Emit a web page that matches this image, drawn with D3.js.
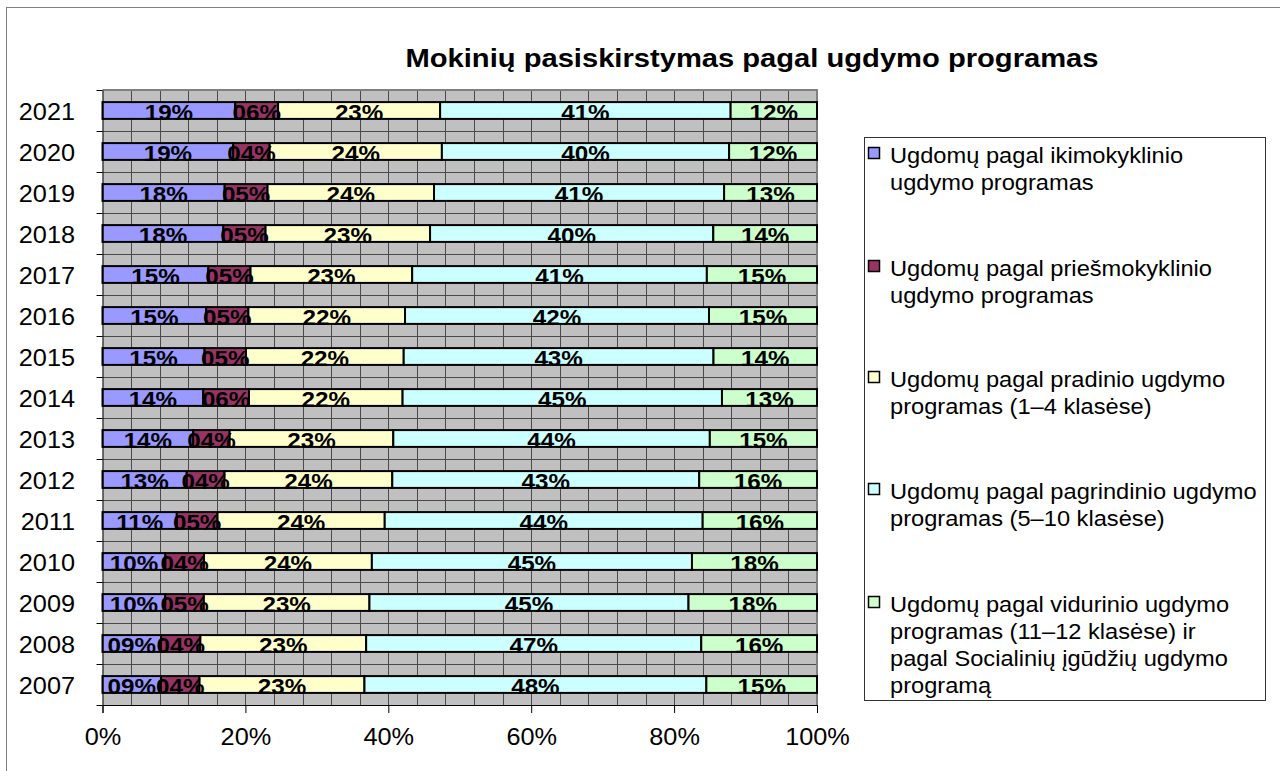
<!DOCTYPE html>
<html>
<head>
<meta charset="utf-8">
<script src="https://cdn.jsdelivr.net/npm/d3@7"></script>
<style>
  html, body { margin: 0; padding: 0; background: #fff; }
  svg { display: block; font-family: Arial, "Liberation Sans", sans-serif; }
</style>
</head>
<body>
<script>
// years, bottom to top
const years = ["2007", "2008", "2009", "2010", "2011", "2012", "2013", "2014",
               "2015", "2016", "2017", "2018", "2019", "2020", "2021"];

// segment sizes (% of bar)
const ikimokyklinio  = [8.2, 8.2, 8.8, 8.8, 10.4, 11.8, 12.7, 14.1, 14.3, 14.5, 14.8, 16.9, 17.1, 18.3, 18.6];
const priesmokyklinio = [5.4, 5.5, 5.4, 5.4, 5.7, 5.3, 5.1, 6.4, 5.8, 5.9, 5.9, 5.9, 6.0, 5.1, 6.0];
const pradinio       = [23.1, 23.2, 23.2, 23.5, 23.4, 23.5, 22.9, 21.5, 22.1, 21.9, 22.6, 23.0, 23.3, 24.1, 22.7];
const pagrindinio    = [47.9, 46.9, 44.7, 44.8, 44.5, 43.0, 44.3, 44.7, 43.4, 42.5, 41.2, 39.6, 40.6, 40.2, 40.7];
const vidurinio      = [15.5, 16.2, 18.0, 17.5, 16.0, 16.5, 15.0, 13.3, 14.5, 15.1, 15.4, 14.5, 13.0, 12.3, 12.1];

// the data labels printed on the bars (they don't always match widths)
const lblIki  = [9, 9, 10, 10, 11, 13, 14, 14, 15, 15, 15, 18, 18, 19, 19];
const lblPries = [4, 4, 5, 4, 5, 4, 4, 6, 5, 5, 5, 5, 5, 4, 6];
const lblPrad = [23, 23, 23, 24, 24, 24, 23, 22, 22, 22, 23, 23, 24, 24, 23];
const lblPagr = [48, 47, 45, 45, 44, 43, 44, 45, 43, 42, 41, 40, 41, 40, 41];
const lblVid  = [15, 16, 18, 18, 16, 16, 15, 13, 14, 15, 15, 14, 13, 12, 12];

const seriesNames = [
    ["Ugdomų pagal ikimokyklinio", "ugdymo programas"],
    ["Ugdomų pagal priešmokyklinio", "ugdymo programas"],
    ["Ugdomų pagal pradinio ugdymo", "programas (1–4 klasėse)"],
    ["Ugdomų pagal pagrindinio ugdymo", "programas (5–10 klasėse)"],
    ["Ugdomų pagal vidurinio ugdymo", "programas (11–12 klasėse) ir", "pagal Socialinių įgūdžių ugdymo", "programą"]
];
const seriesColors = ["#9999FF", "#993366", "#FFFFCC", "#CCFFFF", "#CCFFCC"];
const xTicks = [0, 0.2, 0.4, 0.6, 0.8, 1];

const W = 1280, H = 771;
const STRETCH = 1.1; // reference text is a bit wider than it is tall

const keys = ["s0", "s1", "s2", "s3", "s4"];
const values = [ikimokyklinio, priesmokyklinio, pradinio, pagrindinio, vidurinio];
const labels = [lblIki, lblPries, lblPrad, lblPagr, lblVid];

const rows = years.map((yr, i) => {
    const r = { year: yr };
    keys.forEach((k, j) => r[k] = values[j][i]);
    return r;
});
const stacked = d3.stack().keys(keys).offset(d3.stackOffsetExpand)(rows);

const svg = d3.select("body").append("svg")
    .attr("width", W).attr("height", H);

// chart area frame
svg.append("rect")
    .attr("x", 6.5).attr("y", 7.5)
    .attr("width", W + 10).attr("height", H + 10)
    .attr("fill", "#fff").attr("stroke", "#808080");

const plot = { left: 102.5, right: 817, top: 90, bottom: 705 };

const x = d3.scaleLinear().domain([0, 1]).range([plot.left, plot.right]);
const y = d3.scaleBand().domain(years.slice().reverse()).range([plot.top, plot.bottom]).padding(0);
const bw = y.bandwidth();
const barH = bw * 0.41;

// plot background + grid
svg.append("rect")
    .attr("x", plot.left).attr("y", plot.top)
    .attr("width", plot.right - plot.left).attr("height", plot.bottom - plot.top)
    .attr("fill", "#C0C0C0");

const grid = svg.append("g").attr("stroke", "#4a4a4a").attr("stroke-width", 1);
grid.selectAll("line.v").data(d3.range(1, 25).map(i => i * 0.04))
    .enter().append("line")
    .attr("class", "v")
    .attr("x1", d => Math.round(x(d)) + 0.5).attr("x2", d => Math.round(x(d)) + 0.5)
    .attr("y1", plot.top).attr("y2", plot.bottom);
grid.selectAll("line.h").data(years.slice(1))
    .enter().append("line")
    .attr("class", "h")
    .attr("x1", plot.left).attr("x2", plot.right)
    .attr("y1", d => Math.round(y(d) + bw) + 0.5).attr("y2", d => Math.round(y(d) + bw) + 0.5);

// plot border top / right
svg.append("path")
    .attr("d", `M${plot.left},${plot.top} H${plot.right} V${plot.bottom}`)
    .attr("fill", "none").attr("stroke", "#808080").attr("stroke-width", 2);

// bars
const layers = svg.selectAll("g.layer").data(stacked)
    .enter().append("g")
    .attr("class", "layer")
    .attr("fill", (d, i) => seriesColors[i]);

layers.selectAll("rect").data(d => d)
    .enter().append("rect")
    .attr("x", d => x(d[0]))
    .attr("y", d => y(d.data.year) + (bw - barH) / 2)
    .attr("width", d => x(d[1]) - x(d[0]))
    .attr("height", barH)
    .attr("stroke", "#000")
    .attr("stroke-width", 2);

// data labels on top of everything
const fmt = d3.format("02d");
stacked.forEach((layer, j) => {
    svg.append("g").selectAll("text").data(layer)
        .enter().append("text")
        .attr("transform", (d, i) => `translate(${(x(d[0]) + x(d[1])) / 2},${y(d.data.year) + bw / 2 + 9.5}) scale(${STRETCH},1)`)
        .attr("text-anchor", "middle")
        .attr("font-size", 22)
        .attr("font-weight", "bold")
        .attr("fill", "#000")
        .text((d, i) => fmt(labels[j][i]) + "%");
});

// x axis
const xAxis = d3.axisBottom(x).tickValues(xTicks).tickFormat(d3.format(".0%")).tickSize(8).tickPadding(16);
const gx = svg.append("g")
    .attr("transform", `translate(0,${plot.bottom})`)
    .call(xAxis);
gx.select(".domain").attr("stroke", "#000");
gx.selectAll("text")
    .attr("font-size", 23).attr("font-family", "Arial, 'Liberation Sans', sans-serif")
    .attr("fill", "#000")
    .attr("transform", `scale(${STRETCH},1)`);

// y axis: labels at band centres, ticks at band edges
const yAxis = d3.axisLeft(y).tickSize(0).tickPadding(25);
const gy = svg.append("g")
    .attr("transform", `translate(${plot.left},0)`)
    .call(yAxis);
gy.select(".domain").attr("stroke", "#000");
gy.selectAll("text")
    .attr("font-size", 23).attr("font-family", "Arial, 'Liberation Sans', sans-serif")
    .attr("fill", "#000")
    .attr("dy", "0.42em")
    .attr("transform", `scale(${STRETCH},1)`);
gy.selectAll("line.edge").data(years.concat(["_"]))
    .enter().append("line")
    .attr("class", "edge")
    .attr("x1", -6).attr("x2", 0)
    .attr("y1", (d, i) => Math.round(plot.top + i * bw) + 0.5)
    .attr("y2", (d, i) => Math.round(plot.top + i * bw) + 0.5)
    .attr("stroke", "#000");

// title
svg.append("text")
    .attr("transform", `translate(752,67) scale(${STRETCH},1)`)
    .attr("text-anchor", "middle")
    .attr("font-size", 26.5)
    .attr("font-weight", "bold")
    .text("Mokinių pasiskirstymas pagal ugdymo programas");

// legend
const legend = { x: 864.5, y: 137.5, w: 401, h: 563 };
svg.append("rect")
    .attr("x", legend.x).attr("y", legend.y)
    .attr("width", legend.w).attr("height", legend.h)
    .attr("fill", "#fff").attr("stroke", "#333");

const entryY = [163, 276, 387, 499, 612];
const lineH = 27;
const items = svg.selectAll("g.legend").data(seriesNames)
    .enter().append("g")
    .attr("class", "legend")
    .attr("transform", (d, i) => `translate(0,${entryY[i]})`);

items.append("rect")
    .attr("x", 868.5).attr("y", -15.5)
    .attr("width", 11).attr("height", 11)
    .attr("fill", (d, i) => seriesColors[i])
    .attr("stroke", "#000").attr("stroke-width", 1.5);

items.selectAll("text").data(d => d)
    .enter().append("text")
    .attr("transform", (d, k) => `translate(890,${k * lineH}) scale(${STRETCH},1)`)
    .attr("font-size", 21.5)
    .attr("fill", "#000")
    .text(d => d);
</script>
</body>
</html>
